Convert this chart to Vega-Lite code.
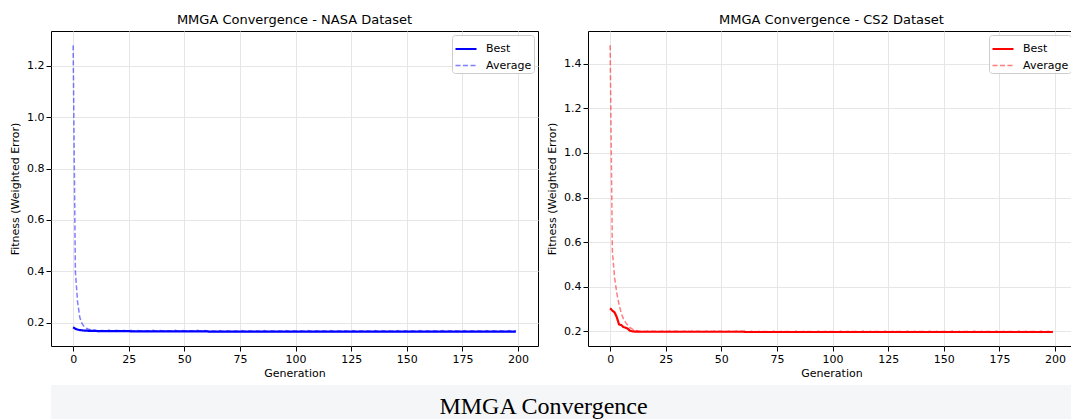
{
  "$schema": "https://vega.github.io/schema/vega-lite/v6.json",
  "background": "white",
  "padding": {"left": 9, "top": 13, "right": 0, "bottom": 0},
  "config": {
    "font": "DejaVu Sans",
    "view": {"stroke": "#000000", "strokeWidth": 1},
    "axis": {"domain": false, "tickColor": "#000000", "tickSize": 5, "labelColor": "#000000", "labelFontSize": 11, "labelFont": "DejaVu Sans", "titleFont": "DejaVu Sans", "titleFontSize": 11, "titleFontWeight": "normal", "titleColor": "#000000", "gridColor": "#e6e6e6", "labelPadding": 2},
    "title": {"fontSize": 13, "fontWeight": "normal", "font": "DejaVu Sans", "frame": "group", "offset": 4, "color": "#000000"},
    "legend": {"orient": "top-right", "offset": 4, "title": null, "fillColor": "rgba(255,255,255,0.85)", "strokeColor": "#cccccc", "cornerRadius": 3, "padding": 2, "symbolType": "stroke", "symbolSize": 441, "labelFontSize": 11, "labelFont": "DejaVu Sans", "labelColor": "#000000", "rowPadding": -7, "labelOffset": 8}
  },
  "datasets": {
    "nasa": [
      {"g":0,"Best":0.182,"Average":1.28},{"g":1,"Best":0.176,"Average":0.40},{"g":2,"Best":0.173,"Average":0.28},{"g":3,"Best":0.171,"Average":0.22},{"g":4,"Best":0.170,"Average":0.196},{"g":5,"Best":0.169,"Average":0.184},{"g":6,"Best":0.169,"Average":0.178},{"g":7,"Best":0.168,"Average":0.174},{"g":8,"Best":0.168,"Average":0.172},{"g":9,"Best":0.168,"Average":0.171},
      {"g":10,"Best":0.168,"Average":0.170},{"g":11,"Best":0.167,"Average":0.168},{"g":12,"Best":0.167,"Average":0.170},{"g":13,"Best":0.167,"Average":0.169},{"g":14,"Best":0.167,"Average":0.168},{"g":15,"Best":0.167,"Average":0.169},{"g":16,"Best":0.167,"Average":0.171},{"g":17,"Best":0.167,"Average":0.168},{"g":18,"Best":0.167,"Average":0.169},{"g":19,"Best":0.167,"Average":0.170},
      {"g":20,"Best":0.167,"Average":0.169},{"g":21,"Best":0.167,"Average":0.168},{"g":22,"Best":0.167,"Average":0.170},{"g":23,"Best":0.167,"Average":0.169},{"g":24,"Best":0.167,"Average":0.168},{"g":25,"Best":0.167,"Average":0.169},{"g":26,"Best":0.166,"Average":0.170},{"g":27,"Best":0.166,"Average":0.167},{"g":28,"Best":0.166,"Average":0.168},{"g":29,"Best":0.166,"Average":0.169},
      {"g":30,"Best":0.166,"Average":0.168},{"g":31,"Best":0.166,"Average":0.167},{"g":32,"Best":0.166,"Average":0.169},{"g":33,"Best":0.166,"Average":0.168},{"g":34,"Best":0.166,"Average":0.167},{"g":35,"Best":0.166,"Average":0.168},{"g":36,"Best":0.166,"Average":0.170},{"g":37,"Best":0.166,"Average":0.167},{"g":38,"Best":0.166,"Average":0.168},{"g":39,"Best":0.166,"Average":0.169},
      {"g":40,"Best":0.166,"Average":0.168},{"g":41,"Best":0.166,"Average":0.167},{"g":42,"Best":0.166,"Average":0.169},{"g":43,"Best":0.166,"Average":0.168},{"g":44,"Best":0.166,"Average":0.167},{"g":45,"Best":0.166,"Average":0.168},{"g":46,"Best":0.166,"Average":0.170},{"g":47,"Best":0.166,"Average":0.167},{"g":48,"Best":0.166,"Average":0.168},{"g":49,"Best":0.166,"Average":0.169},
      {"g":50,"Best":0.166,"Average":0.168},{"g":51,"Best":0.166,"Average":0.167},{"g":52,"Best":0.166,"Average":0.169},{"g":53,"Best":0.166,"Average":0.168},{"g":54,"Best":0.166,"Average":0.167},{"g":55,"Best":0.166,"Average":0.168},{"g":56,"Best":0.166,"Average":0.170},{"g":57,"Best":0.166,"Average":0.167},{"g":58,"Best":0.166,"Average":0.168},{"g":59,"Best":0.166,"Average":0.169},
      {"g":60,"Best":0.166,"Average":0.168},{"g":61,"Best":0.165,"Average":0.166},{"g":62,"Best":0.165,"Average":0.168},{"g":63,"Best":0.165,"Average":0.167},{"g":64,"Best":0.165,"Average":0.166},{"g":65,"Best":0.165,"Average":0.167},{"g":66,"Best":0.165,"Average":0.169},{"g":67,"Best":0.165,"Average":0.166},{"g":68,"Best":0.165,"Average":0.167},{"g":69,"Best":0.165,"Average":0.168},
      {"g":70,"Best":0.165,"Average":0.167},{"g":71,"Best":0.165,"Average":0.166},{"g":72,"Best":0.165,"Average":0.168},{"g":73,"Best":0.165,"Average":0.167},{"g":74,"Best":0.165,"Average":0.166},{"g":75,"Best":0.165,"Average":0.167},{"g":76,"Best":0.165,"Average":0.169},{"g":77,"Best":0.165,"Average":0.166},{"g":78,"Best":0.165,"Average":0.167},{"g":79,"Best":0.165,"Average":0.168},
      {"g":80,"Best":0.165,"Average":0.167},{"g":81,"Best":0.165,"Average":0.166},{"g":82,"Best":0.165,"Average":0.168},{"g":83,"Best":0.165,"Average":0.167},{"g":84,"Best":0.165,"Average":0.166},{"g":85,"Best":0.165,"Average":0.167},{"g":86,"Best":0.165,"Average":0.169},{"g":87,"Best":0.165,"Average":0.166},{"g":88,"Best":0.165,"Average":0.167},{"g":89,"Best":0.165,"Average":0.168},
      {"g":90,"Best":0.165,"Average":0.167},{"g":91,"Best":0.165,"Average":0.166},{"g":92,"Best":0.165,"Average":0.168},{"g":93,"Best":0.165,"Average":0.167},{"g":94,"Best":0.165,"Average":0.166},{"g":95,"Best":0.165,"Average":0.167},{"g":96,"Best":0.165,"Average":0.169},{"g":97,"Best":0.165,"Average":0.166},{"g":98,"Best":0.165,"Average":0.167},{"g":99,"Best":0.165,"Average":0.168},
      {"g":100,"Best":0.165,"Average":0.167},{"g":101,"Best":0.165,"Average":0.166},{"g":102,"Best":0.165,"Average":0.168},{"g":103,"Best":0.165,"Average":0.167},{"g":104,"Best":0.165,"Average":0.166},{"g":105,"Best":0.165,"Average":0.167},{"g":106,"Best":0.165,"Average":0.169},{"g":107,"Best":0.165,"Average":0.166},{"g":108,"Best":0.165,"Average":0.167},{"g":109,"Best":0.165,"Average":0.168},
      {"g":110,"Best":0.165,"Average":0.167},{"g":111,"Best":0.165,"Average":0.166},{"g":112,"Best":0.165,"Average":0.168},{"g":113,"Best":0.165,"Average":0.167},{"g":114,"Best":0.165,"Average":0.166},{"g":115,"Best":0.165,"Average":0.167},{"g":116,"Best":0.165,"Average":0.169},{"g":117,"Best":0.165,"Average":0.166},{"g":118,"Best":0.165,"Average":0.167},{"g":119,"Best":0.165,"Average":0.168},
      {"g":120,"Best":0.165,"Average":0.167},{"g":121,"Best":0.165,"Average":0.166},{"g":122,"Best":0.165,"Average":0.168},{"g":123,"Best":0.165,"Average":0.167},{"g":124,"Best":0.165,"Average":0.166},{"g":125,"Best":0.165,"Average":0.167},{"g":126,"Best":0.165,"Average":0.169},{"g":127,"Best":0.165,"Average":0.166},{"g":128,"Best":0.165,"Average":0.167},{"g":129,"Best":0.165,"Average":0.168},
      {"g":130,"Best":0.165,"Average":0.167},{"g":131,"Best":0.165,"Average":0.166},{"g":132,"Best":0.165,"Average":0.168},{"g":133,"Best":0.165,"Average":0.167},{"g":134,"Best":0.165,"Average":0.166},{"g":135,"Best":0.165,"Average":0.167},{"g":136,"Best":0.165,"Average":0.169},{"g":137,"Best":0.165,"Average":0.166},{"g":138,"Best":0.165,"Average":0.167},{"g":139,"Best":0.165,"Average":0.168},
      {"g":140,"Best":0.165,"Average":0.167},{"g":141,"Best":0.165,"Average":0.166},{"g":142,"Best":0.165,"Average":0.168},{"g":143,"Best":0.165,"Average":0.167},{"g":144,"Best":0.165,"Average":0.166},{"g":145,"Best":0.165,"Average":0.167},{"g":146,"Best":0.165,"Average":0.169},{"g":147,"Best":0.165,"Average":0.166},{"g":148,"Best":0.165,"Average":0.167},{"g":149,"Best":0.165,"Average":0.168},
      {"g":150,"Best":0.165,"Average":0.167},{"g":151,"Best":0.165,"Average":0.166},{"g":152,"Best":0.165,"Average":0.168},{"g":153,"Best":0.165,"Average":0.167},{"g":154,"Best":0.165,"Average":0.166},{"g":155,"Best":0.165,"Average":0.167},{"g":156,"Best":0.165,"Average":0.169},{"g":157,"Best":0.165,"Average":0.166},{"g":158,"Best":0.165,"Average":0.167},{"g":159,"Best":0.165,"Average":0.168},
      {"g":160,"Best":0.165,"Average":0.167},{"g":161,"Best":0.165,"Average":0.166},{"g":162,"Best":0.165,"Average":0.168},{"g":163,"Best":0.165,"Average":0.167},{"g":164,"Best":0.165,"Average":0.166},{"g":165,"Best":0.165,"Average":0.167},{"g":166,"Best":0.165,"Average":0.169},{"g":167,"Best":0.165,"Average":0.166},{"g":168,"Best":0.165,"Average":0.167},{"g":169,"Best":0.165,"Average":0.168},
      {"g":170,"Best":0.165,"Average":0.167},{"g":171,"Best":0.165,"Average":0.166},{"g":172,"Best":0.165,"Average":0.168},{"g":173,"Best":0.165,"Average":0.167},{"g":174,"Best":0.165,"Average":0.166},{"g":175,"Best":0.165,"Average":0.167},{"g":176,"Best":0.165,"Average":0.169},{"g":177,"Best":0.165,"Average":0.166},{"g":178,"Best":0.165,"Average":0.167},{"g":179,"Best":0.165,"Average":0.168},
      {"g":180,"Best":0.165,"Average":0.167},{"g":181,"Best":0.165,"Average":0.166},{"g":182,"Best":0.165,"Average":0.168},{"g":183,"Best":0.165,"Average":0.167},{"g":184,"Best":0.165,"Average":0.166},{"g":185,"Best":0.165,"Average":0.167},{"g":186,"Best":0.165,"Average":0.169},{"g":187,"Best":0.165,"Average":0.166},{"g":188,"Best":0.165,"Average":0.167},{"g":189,"Best":0.165,"Average":0.168},
      {"g":190,"Best":0.165,"Average":0.167},{"g":191,"Best":0.165,"Average":0.166},{"g":192,"Best":0.165,"Average":0.168},{"g":193,"Best":0.165,"Average":0.167},{"g":194,"Best":0.165,"Average":0.166},{"g":195,"Best":0.165,"Average":0.167},{"g":196,"Best":0.165,"Average":0.169},{"g":197,"Best":0.165,"Average":0.166},{"g":198,"Best":0.165,"Average":0.167},{"g":199,"Best":0.165,"Average":0.168}
    ],
    "cs2": [
      {"g":0,"Best":0.303,"Average":1.484},{"g":1,"Best":0.292,"Average":0.56},{"g":2,"Best":0.284,"Average":0.44},{"g":3,"Best":0.262,"Average":0.37},{"g":4,"Best":0.230,"Average":0.32},{"g":5,"Best":0.227,"Average":0.28},{"g":6,"Best":0.218,"Average":0.255},{"g":7,"Best":0.215,"Average":0.238},{"g":8,"Best":0.210,"Average":0.225},{"g":9,"Best":0.201,"Average":0.215},
      {"g":10,"Best":0.199,"Average":0.209},{"g":11,"Best":0.198,"Average":0.205},{"g":12,"Best":0.198,"Average":0.202},{"g":13,"Best":0.197,"Average":0.200},{"g":14,"Best":0.197,"Average":0.199},{"g":15,"Best":0.197,"Average":0.199},{"g":16,"Best":0.197,"Average":0.198},{"g":17,"Best":0.197,"Average":0.200},{"g":18,"Best":0.197,"Average":0.199},{"g":19,"Best":0.197,"Average":0.199},
      {"g":20,"Best":0.197,"Average":0.199},{"g":21,"Best":0.197,"Average":0.200},{"g":22,"Best":0.197,"Average":0.198},{"g":23,"Best":0.197,"Average":0.199},{"g":24,"Best":0.197,"Average":0.201},{"g":25,"Best":0.197,"Average":0.199},{"g":26,"Best":0.197,"Average":0.198},{"g":27,"Best":0.197,"Average":0.200},{"g":28,"Best":0.197,"Average":0.199},{"g":29,"Best":0.197,"Average":0.199},
      {"g":30,"Best":0.197,"Average":0.199},{"g":31,"Best":0.197,"Average":0.200},{"g":32,"Best":0.197,"Average":0.198},{"g":33,"Best":0.197,"Average":0.199},{"g":34,"Best":0.197,"Average":0.201},{"g":35,"Best":0.197,"Average":0.199},{"g":36,"Best":0.197,"Average":0.198},{"g":37,"Best":0.197,"Average":0.200},{"g":38,"Best":0.197,"Average":0.199},{"g":39,"Best":0.197,"Average":0.199},
      {"g":40,"Best":0.197,"Average":0.199},{"g":41,"Best":0.197,"Average":0.200},{"g":42,"Best":0.197,"Average":0.198},{"g":43,"Best":0.197,"Average":0.199},{"g":44,"Best":0.197,"Average":0.201},{"g":45,"Best":0.197,"Average":0.199},{"g":46,"Best":0.197,"Average":0.198},{"g":47,"Best":0.197,"Average":0.200},{"g":48,"Best":0.197,"Average":0.199},{"g":49,"Best":0.197,"Average":0.199},
      {"g":50,"Best":0.197,"Average":0.199},{"g":51,"Best":0.197,"Average":0.200},{"g":52,"Best":0.197,"Average":0.198},{"g":53,"Best":0.197,"Average":0.199},{"g":54,"Best":0.197,"Average":0.201},{"g":55,"Best":0.197,"Average":0.199},{"g":56,"Best":0.197,"Average":0.198},{"g":57,"Best":0.197,"Average":0.200},{"g":58,"Best":0.197,"Average":0.199},{"g":59,"Best":0.197,"Average":0.199},
      {"g":60,"Best":0.197,"Average":0.199},{"g":61,"Best":0.196,"Average":0.199},{"g":62,"Best":0.196,"Average":0.197},{"g":63,"Best":0.196,"Average":0.198},{"g":64,"Best":0.196,"Average":0.200},{"g":65,"Best":0.196,"Average":0.198},{"g":66,"Best":0.196,"Average":0.197},{"g":67,"Best":0.196,"Average":0.199},{"g":68,"Best":0.196,"Average":0.198},{"g":69,"Best":0.196,"Average":0.198},
      {"g":70,"Best":0.196,"Average":0.198},{"g":71,"Best":0.196,"Average":0.199},{"g":72,"Best":0.196,"Average":0.197},{"g":73,"Best":0.196,"Average":0.198},{"g":74,"Best":0.196,"Average":0.200},{"g":75,"Best":0.196,"Average":0.198},{"g":76,"Best":0.196,"Average":0.197},{"g":77,"Best":0.196,"Average":0.199},{"g":78,"Best":0.196,"Average":0.198},{"g":79,"Best":0.196,"Average":0.198},
      {"g":80,"Best":0.196,"Average":0.198},{"g":81,"Best":0.196,"Average":0.199},{"g":82,"Best":0.196,"Average":0.197},{"g":83,"Best":0.196,"Average":0.198},{"g":84,"Best":0.196,"Average":0.200},{"g":85,"Best":0.196,"Average":0.198},{"g":86,"Best":0.196,"Average":0.197},{"g":87,"Best":0.196,"Average":0.199},{"g":88,"Best":0.196,"Average":0.198},{"g":89,"Best":0.196,"Average":0.198},
      {"g":90,"Best":0.196,"Average":0.198},{"g":91,"Best":0.196,"Average":0.199},{"g":92,"Best":0.196,"Average":0.197},{"g":93,"Best":0.196,"Average":0.198},{"g":94,"Best":0.196,"Average":0.200},{"g":95,"Best":0.196,"Average":0.198},{"g":96,"Best":0.196,"Average":0.197},{"g":97,"Best":0.196,"Average":0.199},{"g":98,"Best":0.196,"Average":0.198},{"g":99,"Best":0.196,"Average":0.198},
      {"g":100,"Best":0.196,"Average":0.198},{"g":101,"Best":0.196,"Average":0.199},{"g":102,"Best":0.196,"Average":0.197},{"g":103,"Best":0.196,"Average":0.198},{"g":104,"Best":0.196,"Average":0.200},{"g":105,"Best":0.196,"Average":0.198},{"g":106,"Best":0.196,"Average":0.197},{"g":107,"Best":0.196,"Average":0.199},{"g":108,"Best":0.196,"Average":0.198},{"g":109,"Best":0.196,"Average":0.198},
      {"g":110,"Best":0.196,"Average":0.198},{"g":111,"Best":0.196,"Average":0.199},{"g":112,"Best":0.196,"Average":0.197},{"g":113,"Best":0.196,"Average":0.198},{"g":114,"Best":0.196,"Average":0.200},{"g":115,"Best":0.196,"Average":0.198},{"g":116,"Best":0.196,"Average":0.197},{"g":117,"Best":0.196,"Average":0.199},{"g":118,"Best":0.196,"Average":0.198},{"g":119,"Best":0.196,"Average":0.198},
      {"g":120,"Best":0.196,"Average":0.198},{"g":121,"Best":0.196,"Average":0.199},{"g":122,"Best":0.196,"Average":0.197},{"g":123,"Best":0.196,"Average":0.198},{"g":124,"Best":0.196,"Average":0.200},{"g":125,"Best":0.196,"Average":0.198},{"g":126,"Best":0.196,"Average":0.197},{"g":127,"Best":0.196,"Average":0.199},{"g":128,"Best":0.196,"Average":0.198},{"g":129,"Best":0.196,"Average":0.198},
      {"g":130,"Best":0.196,"Average":0.198},{"g":131,"Best":0.196,"Average":0.199},{"g":132,"Best":0.196,"Average":0.197},{"g":133,"Best":0.196,"Average":0.198},{"g":134,"Best":0.196,"Average":0.200},{"g":135,"Best":0.196,"Average":0.198},{"g":136,"Best":0.196,"Average":0.197},{"g":137,"Best":0.196,"Average":0.199},{"g":138,"Best":0.196,"Average":0.198},{"g":139,"Best":0.196,"Average":0.198},
      {"g":140,"Best":0.196,"Average":0.198},{"g":141,"Best":0.196,"Average":0.199},{"g":142,"Best":0.196,"Average":0.197},{"g":143,"Best":0.196,"Average":0.198},{"g":144,"Best":0.196,"Average":0.200},{"g":145,"Best":0.196,"Average":0.198},{"g":146,"Best":0.196,"Average":0.197},{"g":147,"Best":0.196,"Average":0.199},{"g":148,"Best":0.196,"Average":0.198},{"g":149,"Best":0.196,"Average":0.198},
      {"g":150,"Best":0.196,"Average":0.198},{"g":151,"Best":0.196,"Average":0.199},{"g":152,"Best":0.196,"Average":0.197},{"g":153,"Best":0.196,"Average":0.198},{"g":154,"Best":0.196,"Average":0.200},{"g":155,"Best":0.196,"Average":0.198},{"g":156,"Best":0.196,"Average":0.197},{"g":157,"Best":0.196,"Average":0.199},{"g":158,"Best":0.196,"Average":0.198},{"g":159,"Best":0.196,"Average":0.198},
      {"g":160,"Best":0.196,"Average":0.198},{"g":161,"Best":0.196,"Average":0.199},{"g":162,"Best":0.196,"Average":0.197},{"g":163,"Best":0.196,"Average":0.198},{"g":164,"Best":0.196,"Average":0.200},{"g":165,"Best":0.196,"Average":0.198},{"g":166,"Best":0.196,"Average":0.197},{"g":167,"Best":0.196,"Average":0.199},{"g":168,"Best":0.196,"Average":0.198},{"g":169,"Best":0.196,"Average":0.198},
      {"g":170,"Best":0.196,"Average":0.198},{"g":171,"Best":0.196,"Average":0.199},{"g":172,"Best":0.196,"Average":0.197},{"g":173,"Best":0.196,"Average":0.198},{"g":174,"Best":0.196,"Average":0.200},{"g":175,"Best":0.196,"Average":0.198},{"g":176,"Best":0.196,"Average":0.197},{"g":177,"Best":0.196,"Average":0.199},{"g":178,"Best":0.196,"Average":0.198},{"g":179,"Best":0.196,"Average":0.198},
      {"g":180,"Best":0.196,"Average":0.198},{"g":181,"Best":0.196,"Average":0.199},{"g":182,"Best":0.196,"Average":0.197},{"g":183,"Best":0.196,"Average":0.198},{"g":184,"Best":0.196,"Average":0.200},{"g":185,"Best":0.196,"Average":0.198},{"g":186,"Best":0.196,"Average":0.197},{"g":187,"Best":0.196,"Average":0.199},{"g":188,"Best":0.196,"Average":0.198},{"g":189,"Best":0.196,"Average":0.198},
      {"g":190,"Best":0.196,"Average":0.198},{"g":191,"Best":0.196,"Average":0.199},{"g":192,"Best":0.196,"Average":0.197},{"g":193,"Best":0.196,"Average":0.198},{"g":194,"Best":0.196,"Average":0.200},{"g":195,"Best":0.196,"Average":0.198},{"g":196,"Best":0.196,"Average":0.197},{"g":197,"Best":0.196,"Average":0.199},{"g":198,"Best":0.196,"Average":0.198},{"g":199,"Best":0.196,"Average":0.198}
    ]
  },
  "concat": [
    {
      "spacing": 7,
      "hconcat": [
        {
          "width": 487, "height": 315,
          "title": "MMGA Convergence - NASA Dataset",
          "data": {"name": "nasa"},
          "transform": [{"fold": ["Best", "Average"], "as": ["series", "fitness"]}],
          "mark": {"type": "line", "clip": true},
          "encoding": {
            "x": {"field": "g", "type": "quantitative", "scale": {"domain": [-9.95, 208.95], "nice": false, "zero": false}, "axis": {"values": [0, 25, 50, 75, 100, 125, 150, 175, 200], "title": "Generation", "titlePadding": 3}},
            "y": {"field": "fitness", "type": "quantitative", "scale": {"domain": [0.109, 1.336], "nice": false, "zero": false}, "axis": {"values": [0.2, 0.4, 0.6, 0.8, 1.0, 1.2], "format": ".1f", "title": "Fitness (Weighted Error)", "titlePadding": 6}},
            "color": {"field": "series", "type": "nominal", "scale": {"domain": ["Best", "Average"], "range": ["#0000ff", "#0000ff"]}},
            "strokeDash": {"field": "series", "type": "nominal", "scale": {"domain": ["Best", "Average"], "range": [[1, 0], [5, 2.5]]}},
            "opacity": {"field": "series", "type": "ordinal", "scale": {"domain": ["Best", "Average"], "range": [1, 0.5]}},
            "strokeWidth": {"field": "series", "type": "ordinal", "scale": {"domain": ["Best", "Average"], "range": [2.2, 1.5]}}
          }
        },
        {
          "width": 487, "height": 315,
          "title": "MMGA Convergence - CS2 Dataset",
          "data": {"name": "cs2"},
          "transform": [{"fold": ["Best", "Average"], "as": ["series", "fitness"]}],
          "mark": {"type": "line", "clip": true},
          "encoding": {
            "x": {"field": "g", "type": "quantitative", "scale": {"domain": [-9.95, 208.95], "nice": false, "zero": false}, "axis": {"values": [0, 25, 50, 75, 100, 125, 150, 175, 200], "title": "Generation", "titlePadding": 3}},
            "y": {"field": "fitness", "type": "quantitative", "scale": {"domain": [0.133, 1.548], "nice": false, "zero": false}, "axis": {"values": [0.2, 0.4, 0.6, 0.8, 1.0, 1.2, 1.4], "format": ".1f", "title": "Fitness (Weighted Error)", "titlePadding": 6}},
            "color": {"field": "series", "type": "nominal", "scale": {"domain": ["Best", "Average"], "range": ["#ff0000", "#ff0000"]}},
            "strokeDash": {"field": "series", "type": "nominal", "scale": {"domain": ["Best", "Average"], "range": [[1, 0], [5, 2.5]]}},
            "opacity": {"field": "series", "type": "ordinal", "scale": {"domain": ["Best", "Average"], "range": [1, 0.5]}},
            "strokeWidth": {"field": "series", "type": "ordinal", "scale": {"domain": ["Best", "Average"], "range": [2.2, 1.5]}}
          }
        }
      ],
      "resolve": {"scale": {"color": "independent", "strokeDash": "independent", "opacity": "independent", "strokeWidth": "independent"}, "legend": {"color": "independent", "strokeDash": "independent", "opacity": "independent", "strokeWidth": "independent"}}
    },
    {
      "width": 1069, "height": 34,
      "view": {"fill": "#f5f6f8", "stroke": null},
      "data": {"values": [{"t": "MMGA Convergence"}]},
      "mark": {"type": "text", "font": "Liberation Serif", "fontSize": 24, "baseline": "alphabetic", "dy": 12, "dx": -42, "color": "#000000"},
      "encoding": {"text": {"field": "t", "type": "nominal"}}
    }
  ],
  "columns": 1,
  "align": "none",
  "spacing": 6
}
